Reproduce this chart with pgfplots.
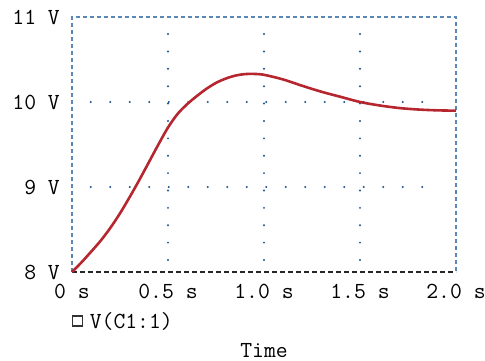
\documentclass[border=0pt]{standalone}
\usepackage{fontspec}
\usepackage{pgfplots}
\pgfplotsset{compat=1.18}
\definecolor{curve}{HTML}{B5262F}
\definecolor{frameblue}{HTML}{5A87B4}
\definecolor{griddot}{HTML}{1A5490}
\newcommand{\chartfont}{\fontsize{23bp}{27bp}\ttfamily\selectfont}
\begin{document}
\begin{tikzpicture}
\begin{axis}[
  scale only axis, width=384bp, height=255bp,
  xmin=0, xmax=2, ymin=8, ymax=11,
  axis line style={draw=none},
  major tick length=0pt,
  xtick={0,0.5,1,1.5,2}, xticklabels={0 s,0.5 s,1.0 s,1.5 s,2.0 s},
  ytick={8,9,10,11}, yticklabels={8 V,9 V,10 V,11 V},
  tick label style={font=\chartfont},
  xticklabel style={anchor=base, yshift=-26bp, inner sep=0pt},
  yticklabel style={anchor=east, xshift=-12bp, inner sep=0pt},
  xlabel={Time},
  xlabel style={at={(axis description cs:0.5,0)}, anchor=base, yshift=-85bp, inner sep=0pt, font=\chartfont},
  clip=false,
  legend style={at={(axis description cs:0,0)}, anchor=north west, yshift=-38bp, draw=none, fill=none, inner sep=0pt, font=\chartfont, legend cell align=left},
  legend image code/.code={\draw[black!80, line width=1.3bp, solid] (0bp,-5bp) rectangle (9.5bp,5bp); \path[draw=none] (0bp,0bp) -- (15bp,0bp);},
]
\coordinate (O) at (rel axis cs:0,0);
% grid dots
\draw[griddot, line width=2.2bp, line cap=round, dash pattern=on 0pt off 19.5bp] (axis cs:0.0974,10) -- (axis cs:1.8265,10);
\draw[griddot, line width=2.2bp, line cap=round, dash pattern=on 0pt off 19.5bp] (axis cs:0.0974,9) -- (axis cs:1.8265,9);
\draw[griddot, line width=2.2bp, line cap=round, dash pattern=on 0pt off 17.38bp] (axis cs:0.5,8.141) -- (axis cs:0.5,10.8);
\draw[griddot, line width=2.2bp, line cap=round, dash pattern=on 0pt off 17.38bp] (axis cs:1.0,8.141) -- (axis cs:1.0,10.8);
\draw[griddot, line width=2.2bp, line cap=round, dash pattern=on 0pt off 17.38bp] (axis cs:1.5,8.141) -- (axis cs:1.5,10.8);
% frame
\draw[frameblue, line width=1.4bp, dash pattern=on 4bp off 3bp] (rel axis cs:0,0) -- (rel axis cs:0,1) -- (rel axis cs:1,1) -- (rel axis cs:1,0);
\draw[black!85, line width=1.3bp, dash pattern=on 5bp off 3bp] (rel axis cs:0,0) -- (rel axis cs:1,0);
\addplot[curve, line width=2.6bp, smooth, tension=0.5] coordinates {
(0,8) (0.05,8.115) (0.1,8.24) (0.15,8.37) (0.2,8.52) (0.25,8.69) (0.3,8.88)
(0.35,9.08) (0.4,9.29) (0.45,9.50) (0.5,9.70) (0.55,9.86) (0.6,9.975)
(0.65,10.07) (0.7,10.155) (0.75,10.225) (0.8,10.275) (0.85,10.31) (0.9,10.328)
(0.95,10.33) (1.0,10.32) (1.1,10.265) (1.2,10.19) (1.3,10.12) (1.4,10.06) (1.5,10.0)
(1.6,9.96) (1.7,9.93) (1.8,9.912) (1.9,9.902) (2.0,9.898)
};
\addlegendentry{V(C1:1)}
\end{axis}
\pgfresetboundingbox
\path (O) ++(-72bp,-89bp) rectangle ++(485bp,361bp);
\end{tikzpicture}
\end{document}
